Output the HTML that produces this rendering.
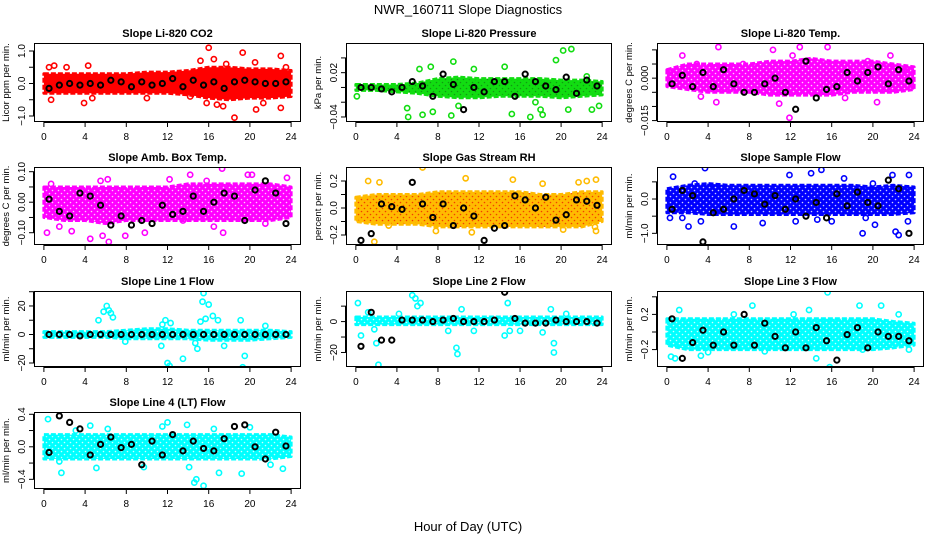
<!DOCTYPE html>
<html><head><meta charset="utf-8"><style>
body{margin:0;background:#fff}
svg{display:block;font-family:"Liberation Sans",Arial,sans-serif}
</style></head><body>
<svg id="chart" width="936" height="540" viewBox="0 0 936 540" xmlns="http://www.w3.org/2000/svg">
<rect width="936" height="540" fill="#fff"/>
<defs id="defs"></defs>
<text x="468" y="14" text-anchor="middle" font-size="13">NWR_160711  Slope Diagnostics</text>
<text x="468" y="531" text-anchor="middle" font-size="13">Hour of Day (UTC)</text>
</svg>
<script>
const bandHours=[0,2,4,6,8,10,12,14,16,18,20,22,24];
const blackHours=[0.5,1.5,2.5,3.5,4.5,5.5,6.5,7.5,8.5,9.5,10.5,11.5,12.5,13.5,14.5,15.5,16.5,17.5,18.5,19.5,20.5,21.5,22.5,23.5];
const xTicks=[0,4,8,12,16,20,24];

const co2BandHi=[0.3,0.3,0.3,0.3,0.3,0.35,0.35,0.4,0.5,0.5,0.45,0.45,0.4];
const co2BandLo=[-0.3,-0.3,-0.3,-0.3,-0.3,-0.3,-0.3,-0.35,-0.45,-0.5,-0.45,-0.45,-0.4];
const co2Out=[[0.7,-0.5],[1,0.55],[2.2,0.5],[3.9,-0.6],[4.3,0.55],[4.7,-0.45],[10,-0.45],[14.2,-0.4],[15.2,0.7],[15.8,-0.6],[16,1.1],[16.5,0.75],[16.8,-0.65],[17.4,-0.7],[17.7,0.6],[18.5,-1.05],[19.3,0.95],[20.5,0.65],[20.6,-0.8],[21.3,-0.6],[23,0.85],[23,-0.75],[23.5,0.5],[0.5,0.5]];
const co2Black=[-0.15,-0.05,0,-0.05,0,-0.05,0.1,0.05,-0.1,0.05,-0.05,0,0.15,-0.1,0.1,-0.05,0.05,-0.15,0.05,0.1,0.05,0,0,0.05];

const presBandHi=[0.004,0.004,0.004,0.006,0.012,0.014,0.012,0.012,0.012,0.012,0.01,0.01,0.008];
const presBandLo=[-0.004,-0.004,-0.006,-0.008,-0.012,-0.014,-0.014,-0.012,-0.012,-0.012,-0.014,-0.012,-0.01];
const presOut=[[0.1,-0.012],[5,-0.028],[5.1,-0.04],[6.2,0.025],[6.5,-0.037],[7.3,0.028],[7.5,-0.033],[9.5,0.035],[9.3,-0.038],[10,-0.025],[11.5,0.025],[14.5,0.028],[15.2,-0.036],[17,-0.04],[17.5,-0.02],[18,-0.03],[18.2,-0.037],[19.5,0.037],[20.2,0.05],[20.7,-0.03],[21,0.052],[23,-0.03],[23.7,-0.025],[22.5,0.015]];
const presBlack=[0,0,-0.002,-0.006,0,0.008,0.002,-0.012,0.018,0.004,-0.03,0,-0.006,0.008,0.008,-0.012,0.018,0.008,0.002,-0.003,0.014,-0.008,0.01,0.002];

const ltempBandHi=[0.003,0.005,0.005,0.005,0.005,0.006,0.006,0.007,0.006,0.006,0.006,0.005,0.004];
const ltempBandLo=[-0.003,-0.004,-0.005,-0.005,-0.005,-0.006,-0.006,-0.006,-0.006,-0.005,-0.005,-0.005,-0.004];
const ltempOut=[[1.5,0.008],[2.9,0.005],[3.3,-0.0065],[4.8,-0.0085],[5,0.011],[7.4,0.005],[10.3,0.01],[10.9,-0.009],[11.9,-0.014],[12.2,0.008],[12.9,0.011],[15.6,0.011],[17.3,-0.007],[19.5,0.006],[20.4,-0.0085],[21.7,0.008],[23.3,0.003],[0.3,0.002]];
const ltempBlack=[-0.002,0.001,-0.003,0.002,-0.003,0.003,-0.002,-0.005,-0.005,-0.002,0,-0.005,-0.011,0.006,-0.007,-0.004,-0.003,0.002,-0.001,0.002,0.004,-0.002,0.003,-0.001];

const ambBandHi=[0.05,0.05,0.05,0.05,0.05,0.05,0.05,0.06,0.06,0.06,0.06,0.06,0.05];
const ambBandLo=[-0.05,-0.06,-0.06,-0.07,-0.06,-0.06,-0.06,-0.06,-0.06,-0.06,-0.06,-0.06,-0.05];
const ambOut=[[0.3,-0.1],[1.5,-0.08],[2.7,-0.095],[4.5,-0.12],[5.5,0.07],[6.2,0.075],[5.7,-0.11],[6.3,-0.13],[7.9,-0.11],[9.8,-0.1],[12.2,0.075],[13.5,-0.06],[14.2,0.09],[15.8,0.07],[16.5,-0.08],[17.3,0.11],[17.4,-0.1],[19.8,0.09],[20.2,0.09],[21.5,-0.07],[23.6,0.08],[0.7,0.06]];
const ambBlack=[0.01,-0.03,-0.045,0.03,0.02,-0.01,-0.075,-0.045,-0.075,-0.06,-0.07,-0.01,-0.04,-0.03,0.02,-0.03,0,0.03,0.02,-0.06,0.04,0.07,0.03,-0.07];

const rhBandHi=[0.08,0.1,0.1,0.1,0.12,0.12,0.12,0.12,0.12,0.1,0.1,0.12,0.12];
const rhBandLo=[-0.1,-0.12,-0.12,-0.12,-0.14,-0.14,-0.14,-0.14,-0.14,-0.14,-0.14,-0.14,-0.1];
const rhOut=[[1.2,0.2],[1.8,-0.25],[2.3,0.19],[3.2,-0.13],[6.5,0.3],[7.8,-0.17],[10.7,0.22],[11.3,-0.18],[15.3,0.21],[15.6,0.1],[18.2,0.18],[20.2,-0.16],[21.7,0.19],[22.5,0.2],[23.3,-0.14],[23.4,0.21],[23.4,-0.17]];
const rhBlack=[-0.24,-0.19,0.03,0.01,-0.01,0.19,0.03,-0.07,0.03,-0.13,0,-0.06,-0.24,-0.15,-0.13,0.09,0.06,0,0.08,-0.09,-0.05,0.06,0.05,0.02];

const sfBandHi=[0.3,0.4,0.45,0.4,0.4,0.4,0.4,0.4,0.4,0.4,0.35,0.4,0.35];
const sfBandLo=[-0.4,-0.4,-0.45,-0.45,-0.45,-0.45,-0.45,-0.45,-0.45,-0.45,-0.45,-0.45,-0.4];
const sfOut=[[0.3,-0.55],[0.6,0.65],[1.5,-0.55],[2.1,-0.8],[2.7,0.45],[3.3,-0.65],[3.7,0.9],[6.5,-0.8],[9.3,-0.7],[11.9,0.7],[12.5,-0.65],[14,0.75],[14.6,-0.6],[15,0.85],[16,-0.65],[17.2,0.6],[19,-1],[19.3,-0.55],[20.2,-0.75],[21.9,0.7],[22.2,-0.95],[22.5,-1.05],[23.5,0.7],[23.4,-0.65],[20,0.45]];
const sfBlack=[-0.3,0.25,0.1,-1.25,-0.4,-0.3,0,0.25,0.15,-0.15,0.1,-0.3,0,-0.5,-0.1,-0.55,0.15,-0.2,0.2,-0.1,-0.2,0.55,0.3,-1.0];

const l1BandHi=[2,2,2,2,3,4,4,3,3,3,3,3,2];
const l1BandLo=[-2,-2,-2,-2,-3,-3,-3,-3,-4,-4,-4,-3,-2];
const l1Out=[[5.3,10],[5.8,16],[6.1,20],[6.3,17],[6.5,15],[6.7,12],[7.9,-5],[11.4,-8],[11.5,7],[11.8,10],[12,-20],[12.2,-22],[12.3,8],[13.5,-17],[14.7,-6],[14.9,-10],[15.2,9],[15.4,23],[15.5,29],[15.7,11],[16,21],[16.4,13],[16.9,10],[17.5,-8],[19.1,10],[19.3,-23],[19.5,-15],[21.5,6]];
const l1Black=[0,0,0,-1,0,0,0,0,0,0,0,0,0,0,0,0,0,0,0,0,0,0,0,0];

const l2BandHi=[3,3,3,3,3,3,3,3,3,3,3,3,3];
const l2BandLo=[-2,-2,-2,-2,-2,-2,-2,-2,-2,-2,-2,-2,-2];
const l2Out=[[0.2,12],[0.5,-9],[1.2,6],[1.8,-5],[2,-14],[2.2,-28],[4.2,5],[5.5,17],[5.8,15],[6,10],[6.3,12],[9,-6],[9.8,-17],[9.9,-21],[10.3,8],[11.5,-6],[14.5,-9],[14.8,12],[15,-6],[16,-6],[18.2,-7],[19,8],[19.3,-14],[19.3,-20],[20.5,5]];
const l2Black=[-16,6,-12,-12,1,1,1,0,1,2,0,0,0,1,19,2,-1,-1,-1,1,0,0,0,-1];

const l3BandHi=[0.15,0.15,0.15,0.15,0.15,0.15,0.15,0.15,0.15,0.15,0.15,0.12,0.1];
const l3BandLo=[-0.15,-0.2,-0.2,-0.2,-0.2,-0.2,-0.2,-0.2,-0.2,-0.2,-0.2,-0.18,-0.15];
const l3Out=[[0.4,-0.28],[0.8,-0.3],[1.2,0.25],[3.3,-0.27],[4,-0.23],[6.5,0.2],[8.3,0.3],[9.5,-0.22],[12.3,0.2],[13.8,0.25],[14.5,-0.3],[15.6,0.45],[15.8,-0.4],[18.7,0.3],[19,-0.2],[20.8,0.3],[22.5,0.2],[23.5,-0.2]];
const l3Black=[0.15,-0.3,-0.12,0.02,-0.15,0,-0.15,0.2,-0.15,0.1,-0.05,-0.18,0,-0.18,0.05,-0.1,-0.32,-0.03,0.05,-0.18,0,-0.05,-0.05,-0.1];

const l4BandHi=[0.15,0.15,0.15,0.15,0.15,0.15,0.15,0.15,0.15,0.15,0.15,0.15,0.12];
const l4BandLo=[-0.15,-0.15,-0.15,-0.15,-0.15,-0.15,-0.15,-0.15,-0.15,-0.15,-0.15,-0.15,-0.12];
const l4Out=[[0.4,0.34],[1.5,-0.18],[1.7,-0.32],[3.1,0.2],[4.5,0.26],[5.1,-0.26],[6.2,0.22],[7,0.02],[9.7,-0.25],[11.5,0.25],[12,0.3],[13.9,0.27],[14.1,-0.25],[14.6,-0.44],[14.8,-0.4],[15.5,-0.48],[16.5,0.22],[17,-0.32],[19.2,-0.33],[20,0.24],[22,-0.22],[23.2,-0.27]];
const l4Black=[-0.07,0.38,0.3,0.22,-0.1,0.03,0.12,-0.01,0.03,-0.22,0.07,-0.1,0.15,-0.05,0.07,-0.02,-0.05,0.1,0.25,0.27,0,-0.15,0.18,0.01];

const NS="http://www.w3.org/2000/svg";
const svg=document.getElementById('chart');
const defs=document.getElementById('defs');
function mk(tag,attrs,parent){const e=document.createElementNS(NS,tag);for(const k in attrs)e.setAttribute(k,attrs[k]);(parent||svg).appendChild(e);return e;}

const cols=[[34,301],[346,612],[657,924]];
const rows=[[43,122],[167,245],[291,367],[412,489]];
const panels=[
 {name:'co2',title:'Slope Li-820 CO2',ylab:'Licor ppm per min.',c:0,r:0,ylim:[-1.185,1.246],ticks:[-1,-0.5,0,0.5,1],labels:{'-1':'\u22121.0','0':'0.0','1':'1.0'},color:'#ff0000',dot:'#ff0000',hi:co2BandHi,lo:co2BandLo,out:co2Out,blk:co2Black},
 {name:'pressure',title:'Slope Li-820 Pressure',ylab:'kPa per min.',c:1,r:0,ylim:[-0.0468,0.0602],ticks:[-0.04,-0.02,0,0.02,0.04],labels:{'0.02':'0.02','-0.04':'\u22120.04'},color:'#11dd11',dot:'#118811',hi:presBandHi,lo:presBandLo,out:presOut,blk:presBlack},
 {name:'li820-temp',title:'Slope Li-820 Temp.',ylab:'degrees C per min.',c:2,r:0,ylim:[-0.0155,0.01243],ticks:[-0.015,-0.01,-0.005,0,0.005,0.01],labels:{'0':'0.000','-0.015':'\u22120.015'},color:'#ff00ff',dot:'#ffffff',hi:ltempBandHi,lo:ltempBandLo,out:ltempOut,blk:ltempBlack},
 {name:'amb-box-temp',title:'Slope Amb. Box Temp.',ylab:'degrees C per min.',c:0,r:1,ylim:[-0.1403,0.1154],ticks:[-0.1,-0.05,0,0.05,0.1],labels:{'-0.1':'\u22120.10','0':'0.00','0.1':'0.10'},color:'#ff00ff',dot:'#ffffff',hi:ambBandHi,lo:ambBandLo,out:ambOut,blk:ambBlack},
 {name:'gas-stream-rh',title:'Slope Gas Stream RH',ylab:'percent per min.',c:1,r:1,ylim:[-0.274,0.3037],ticks:[-0.2,-0.1,0,0.1,0.2],labels:{'-0.2':'\u22120.2','0':'0.0','0.2':'0.2'},color:'#ffbb00',dot:'#ee2200',hi:rhBandHi,lo:rhBandLo,out:rhOut,blk:rhBlack},
 {name:'sample-flow',title:'Slope Sample Flow',ylab:'ml/min per min.',c:2,r:1,ylim:[-1.34,0.933],ticks:[-1,-0.5,0,0.5],labels:{'-1':'\u22121.0','0':'0.0'},color:'#0000ff',dot:'#ffffff',hi:sfBandHi,lo:sfBandLo,out:sfOut,blk:sfBlack},
 {name:'line1-flow',title:'Slope Line 1 Flow',ylab:'ml/min per min.',c:0,r:2,ylim:[-22.8,30.5],ticks:[-20,-10,0,10,20,30],labels:{'-20':'\u221220','0':'0','20':'20'},color:'#00ffff',dot:'#ffffff',hi:l1BandHi,lo:l1BandLo,out:l1Out,blk:l1Black},
 {name:'line2-flow',title:'Slope Line 2 Flow',ylab:'ml/min per min.',c:1,r:2,ylim:[-29.4,19.8],ticks:[-20,-10,0,10],labels:{'-20':'\u221220','0':'0'},color:'#00ffff',dot:'#ffffff',hi:l2BandHi,lo:l2BandLo,out:l2Out,blk:l2Black},
 {name:'line3-flow',title:'Slope Line 3 Flow',ylab:'ml/min per min.',c:2,r:2,ylim:[-0.398,0.466],ticks:[-0.2,0,0.2,0.4],labels:{'-0.2':'\u22120.2','0.2':'0.2'},color:'#00ffff',dot:'#ffffff',hi:l3BandHi,lo:l3BandLo,out:l3Out,blk:l3Black},
 {name:'line4-flow',title:'Slope Line 4 (LT) Flow',ylab:'ml/min per min.',c:0,r:3,ylim:[-0.519,0.428],ticks:[-0.4,-0.2,0,0.2,0.4],labels:{'-0.4':'\u22120.4','0':'0.0','0.4':'0.4'},color:'#00ffff',dot:'#ffffff',hi:l4BandHi,lo:l4BandLo,out:l4Out,blk:l4Black}
];

panels.forEach(p=>{
 const [x0,x1]=cols[p.c],[y0,y1]=rows[p.r];
 const xs=h=>x0+(h+0.96)/25.92*(x1-x0);
 const ys=v=>y1-(v-p.ylim[0])/(p.ylim[1]-p.ylim[0])*(y1-y0);
 // texture pattern
 const pat=mk('pattern',{id:'pat-'+p.name,width:6,height:6,patternUnits:'userSpaceOnUse'},defs);
 mk('rect',{width:6,height:6,fill:p.color},pat);
 mk('circle',{cx:1.5,cy:1.5,r:0.8,fill:p.dot,opacity:0.8},pat);
 mk('circle',{cx:4.5,cy:4.5,r:0.8,fill:p.dot,opacity:0.8},pat);
 const g=mk('g',{});
 
 
 const clipId='clip-'+p.name;
 const cp=mk('clipPath',{id:clipId},g);mk('rect',{x:x0,y:y0,width:x1-x0,height:y1-y0},cp);
 const pg=mk('g',{'clip-path':'url(#'+clipId+')'},g);
 let pts=bandHours.map((h,i)=>xs(h)+','+ys(p.hi[i]));
 pts=pts.concat(bandHours.map((h,i)=>xs(h)+','+ys(p.lo[i])).reverse());
 const band=mk('polygon',{points:pts.join(' '),fill:'url(#pat-'+p.name+')',stroke:p.color,'stroke-width':3,'stroke-dasharray':'5 2','stroke-linejoin':'round'},pg);
 
 
 p.out.forEach(o=>{
  const c=mk('circle',{cx:xs(o[0]),cy:ys(o[1]),r:2.6,fill:'none',stroke:p.color,'stroke-width':1.6},pg);
  
  
 });
 p.blk.forEach((v,i)=>{
  const c=mk('circle',{cx:xs(blackHours[i]),cy:ys(v),r:2.6,fill:'none',stroke:'#000','stroke-width':2},pg);
  
  
 });
 const box=mk('rect',{x:x0+0.5,y:y0+0.5,width:x1-x0-1,height:y1-y0-1,fill:'none',stroke:'#000','stroke-width':1},g);
 
 
 const t=mk('text',{x:(x0+x1)/2,y:y0-6,'text-anchor':'middle','font-size':11,'font-weight':'bold'},g);t.textContent=p.title;
 
 
 mk('line',{x1:xs(0),x2:xs(24),y1:y1+0.5,y2:y1+0.5,stroke:'#000'},g);
 xTicks.forEach(h=>{
  mk('line',{x1:xs(h),x2:xs(h),y1:y1,y2:y1+5,stroke:'#000'},g);
  const l=mk('text',{x:xs(h),y:y1+18,'text-anchor':'middle','font-size':10},g);l.textContent=h;
  
  
 });
 const tv=p.ticks;
 mk('line',{x1:x0-0.5,x2:x0-0.5,y1:ys(tv[0]),y2:ys(tv[tv.length-1]),stroke:'#000'},g);
 tv.forEach(v=>{
  const yy=ys(v);
  mk('line',{x1:x0-5,x2:x0,y1:yy,y2:yy,stroke:'#000'},g);
  const key=String(v);
  if(p.labels[key]!==undefined){
   const l=mk('text',{x:x0-9,y:yy,'text-anchor':'middle','font-size':10,transform:'rotate(-90 '+(x0-9)+' '+yy+')'},g);
   l.textContent=p.labels[key];
   
   
  }
 });
 const yl=mk('text',{x:x0-25,y:(y0+y1)/2,'text-anchor':'middle','font-size':9.5,transform:'rotate(-90 '+(x0-25)+' '+(y0+y1)/2+')'},g);
 yl.textContent=p.ylab;
 
 
});
</script>
</body></html>
